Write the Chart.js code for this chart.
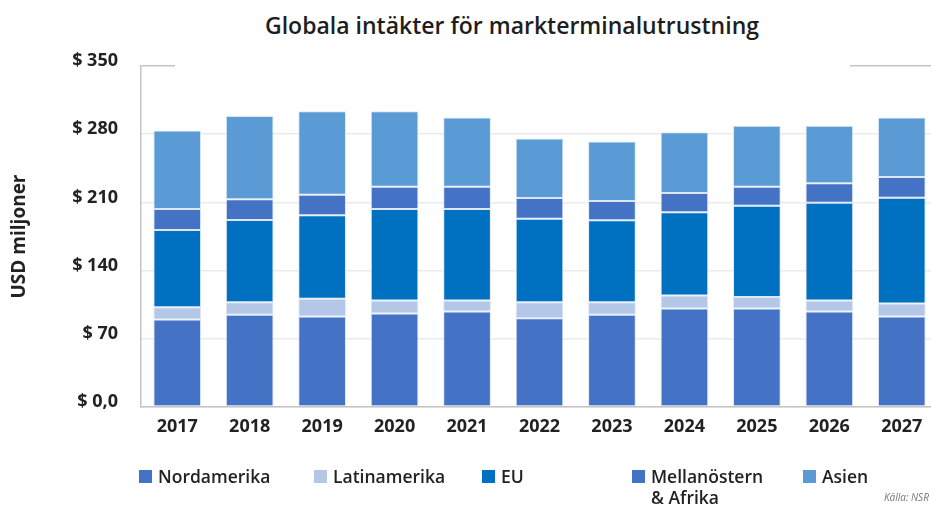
<!DOCTYPE html>
<html>
<head>
<meta charset="utf-8">
<script src="https://cdn.jsdelivr.net/npm/chart.js@4"></script>
<style>
  body { margin: 0; background: #fff; overflow: hidden; width: 931px; height: 506px; position: relative; font-family: 'Open Sans', sans-serif; color: #222; }
  #wrap { position: absolute; left: 0; top: 0; width: 940px; height: 506px; }
  #titel { position: absolute; top: 9px; left: 512px; transform: translateX(-50%); font-size: 23px; line-height: 32px; font-weight: 600; white-space: nowrap; color: #1e1e1e; }
  .lg { position: absolute; top: 466px; font-size: 17.5px; line-height: 21px; font-weight: 600; color: #222; }
  .lg span.box { position: absolute; left: 0; top: 4px; width: 13px; height: 13px; }
  .lg span.txt { display: block; margin-left: 19px; }
  #kalla { position: absolute; left: 884px; top: 490px; font-size: 10px; font-style: italic; color: #777; white-space: nowrap; }
</style>
</head>
<body>
<div id="titel">Globala intäkter för markterminalutrustning</div>
<div id="wrap"><canvas id="chart1"></canvas></div>
<div id="legend"></div>
<div id="kalla">Källa: NSR</div>
<script>
// Data (USD miljoner)
const ar = ['2017', '2018', '2019', '2020', '2021', '2022', '2023', '2024', '2025', '2026', '2027'];
const nordamerika = [89.8, 94.6, 92.9, 96.0, 98.1, 91.2, 94.6, 101.1, 101.1, 98.1, 92.9];
const latinamerika = [12.7, 13.0, 18.1, 13.4, 11.3, 16.4, 13.0, 13.4, 11.7, 11.3, 13.4];
const eu = [79.1, 84.3, 85.7, 93.8, 93.8, 85.6, 84.0, 85.3, 93.8, 100.3, 108.5];
const mellanostern = [21.6, 21.3, 21.2, 22.9, 22.9, 21.3, 19.8, 19.9, 19.5, 19.9, 21.3];
const asien = [80.5, 85.6, 85.7, 77.5, 71.0, 61.0, 61.0, 62.3, 62.7, 59.2, 61.0];

const yVarden = [0, 70, 140, 210, 280, 350];
const yEtiketter = ['$ 0,0', '$ 70', '$ 140', '$ 210', '$ 280', '$ 350'];

const serier = [
    { namn: 'Nordamerika', data: nordamerika, farg: '#4472c4' },
    { namn: 'Latinamerika', data: latinamerika, farg: '#b4c7e7' },
    { namn: 'EU', data: eu, farg: '#0070c0' },
    { namn: 'Mellanöstern & Afrika', data: mellanostern, farg: '#4472c4' },
    { namn: 'Asien', data: asien, farg: '#5b9bd5' }
];

// legend (positioner i px)
const legendX = [139, 314, 482, 632, 803];
const legendBredd = [140, 150, 60, 130, 90];
const legend = document.getElementById('legend');
serier.forEach((s, i) => {
    const d = document.createElement('div');
    d.className = 'lg';
    d.style.left = legendX[i] + 'px';
    d.style.width = legendBredd[i] + 'px';
    d.innerHTML = '<span class="box" style="background:' + s.farg + '"></span><span class="txt">' + s.namn + '</span>';
    legend.appendChild(d);
});

// vit ruta som täcker översta stödlinjen (som i originalet)
const tackRuta = {
    id: 'tackRuta',
    beforeDatasetsDraw(chart) {
        const c = chart.ctx;
        c.save();
        c.fillStyle = '#fff';
        c.fillRect(175, 58, 675, 14);
        c.restore();
    }
};

Chart.defaults.font.family = "'Open Sans', sans-serif";
Chart.defaults.color = '#222';

const ctx = document.getElementById('chart1').getContext('2d');
const myChart = new Chart(ctx, {
    type: 'bar',
    data: {
        labels: ar,
        datasets: serier.map(s => ({
            label: s.namn,
            data: s.data,
            backgroundColor: s.farg,
            borderColor: 'rgba(215, 228, 245, 0.9)',
            borderWidth: 1,
            borderSkipped: false,
            barPercentage: 0.658,
            categoryPercentage: 1
        }))
    },
    options: {
        responsive: true,
        maintainAspectRatio: false,
        animation: false,
        layout: { padding: { top: 66, right: 2, bottom: 59, left: 0 } },
        plugins: {
            legend: { display: false },
            title: { display: false },
            tooltip: { enabled: false }
        },
        scales: {
            x: {
                stacked: true,
                grid: { display: false, drawTicks: false },
                border: { display: true, color: '#c4c4c4', width: 1.5 },
                ticks: { padding: 9, font: { size: 18, weight: 'bold' }, color: '#222' },
                afterFit: s => { s.height = 40; }
            },
            y: {
                stacked: true,
                min: 0,
                max: 350,
                afterBuildTicks: s => { s.ticks = yVarden.map(v => ({ value: v })); },
                grid: {
                    drawTicks: false,
                    color: c => c.tick && c.tick.value === 350 ? '#c4c4c4' : '#ebebeb',
                    lineWidth: 1.5
                },
                border: { display: true, color: '#c4c4c4', width: 1.5 },
                ticks: {
                    padding: 23,
                    labelOffset: -5,
                    font: { size: 18, weight: 'bold' },
                    color: '#222',
                    callback: (v, i) => yEtiketter[i]
                },
                title: {
                    display: true,
                    text: 'USD miljoner',
                    font: { size: 19, weight: 'bold' },
                    color: '#222',
                    padding: { top: 8 }
                },
                afterFit: s => { s.width = 141; }
            }
        }
    },
    plugins: [tackRuta]
});
</script>
</body>
</html>
